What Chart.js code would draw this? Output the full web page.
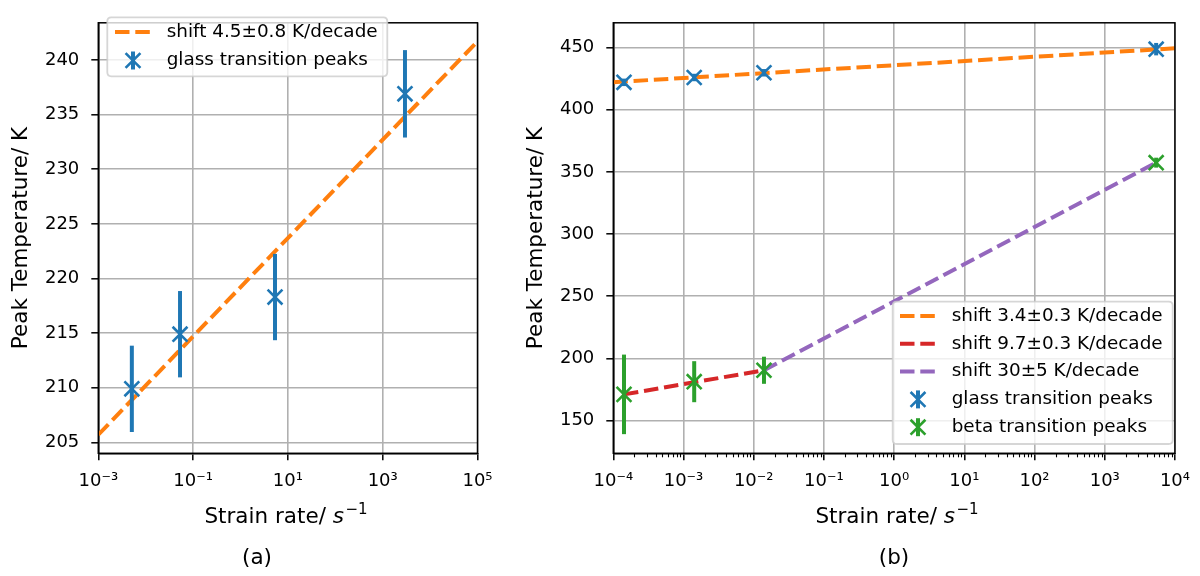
<!DOCTYPE html>
<html><head><meta charset="utf-8">
<script src="https://cdn.jsdelivr.net/npm/chart.js@4.4.1/dist/chart.umd.min.js"></script>
<style>
html,body{margin:0;padding:0;background:#fff;}
#wrap{position:relative;width:1200px;height:576px;}
canvas{position:absolute;left:0;top:0;}
</style></head><body>
<div id="wrap"><canvas id="ca" width="1200" height="576"></canvas><canvas id="cb" width="1200" height="576"></canvas></div>
<script>
// ---------- Panel (a) data ----------
const rateA = [0.0051, 0.053, 5.35, 2950];
const glassA = [209.9, 214.9, 218.3, 236.9];
const glassErrA = [3.95, 3.95, 3.95, 4.0];
const fitARate = [1e-3, 1e5];
const fitATemp = [205.7, 241.7];
const xTicksA = [1e-3, 1e-1, 1e1, 1e3, 1e5];
const yTicksA = [205, 210, 215, 220, 225, 230, 235, 240];
const labelFitA = 'shift 4.5±0.8 K/decade';

// ---------- Panel (b) data ----------
const rateB = [1.42e-4, 1.42e-3, 1.40e-2, 5400];
const glassB = [422.0, 425.9, 429.7, 448.7];
const glassErrB = [3, 3, 3, 5];
const betaB = [171.0, 181.2, 190.4, 357.4];
const betaErrB = [32, 16.5, 10.9, 4];
const fitGlassRate = [1e-4, 1e4];
const fitGlassTemp = [422.1, 449.4];
const fitBetaLowRate = [1.42e-4, 1.40e-2];
const fitBetaLowTemp = [171.0, 190.4];
const fitBetaHighRate = [1.40e-2, 5400];
const fitBetaHighTemp = [190.4, 357.4];
const xTicksB = [1e-4, 1e-3, 1e-2, 1e-1, 1e0, 1e1, 1e2, 1e3, 1e4];
const yTicksB = [150, 200, 250, 300, 350, 400, 450];
const labelFitGlassB = 'shift 3.4±0.3 K/decade';
const labelFitBetaLow = 'shift 9.7±0.3 K/decade';
const labelFitBetaHigh = 'shift 30±5 K/decade';
const labelGlass = 'glass transition peaks';
const labelBeta = 'beta transition peaks';

const yTitle = 'Peak Temperature/ K';

// ---------- helpers ----------
const FAM = '"DejaVu Sans", sans-serif';
const C = {blue:'#1f77b4', orange:'#ff7f0e', green:'#2ca02c', red:'#d62728', purple:'#9467bd'};
const SUP = {'-':'\u207B','0':'\u2070','1':'\u00B9','2':'\u00B2','3':'\u00B3','4':'\u2074','5':'\u2075','6':'\u2076','7':'\u2077','8':'\u2078','9':'\u2079'};
const pow10Label = v => '10' + String(Math.round(Math.log10(v))).split('').map(c => SUP[c]).join('');
const pts = (xs, ys) => xs.map((x, i) => ({x, y: ys[i]}));
const DASH = [14.5, 5.8];
const LW = 4;
const MR = 10.5;

function fitDs(label, xs, ys, color) {
  return {label, data: pts(xs, ys), showLine: true, borderColor: color, backgroundColor: color,
    borderWidth: LW, borderDash: DASH, pointRadius: 0, order: 2, _kind: 'line'};
}
function peakDs(label, xs, ys, color) {
  return {label, data: pts(xs, ys), showLine: false, pointStyle: 'crossRot', pointRadius: MR,
    pointBorderWidth: 2.6, pointBorderColor: color, borderColor: color, pointBackgroundColor: 'rgba(0,0,0,0)',
    order: 1, clip: false, _kind: 'marker'};
}

function roundRect(ctx, x, y, w, h, r) {
  ctx.beginPath();
  ctx.moveTo(x + r, y); ctx.lineTo(x + w - r, y); ctx.quadraticCurveTo(x + w, y, x + w, y + r);
  ctx.lineTo(x + w, y + h - r); ctx.quadraticCurveTo(x + w, y + h, x + w - r, y + h);
  ctx.lineTo(x + r, y + h); ctx.quadraticCurveTo(x, y + h, x, y + h - r);
  ctx.lineTo(x, y + r); ctx.quadraticCurveTo(x, y, x + r, y); ctx.closePath();
}

function makePanel(id, cfg) {
  const extras = {
    id: 'extras',
    afterDatasetsDraw(chart) {
      const {ctx, chartArea: a, scales: {x, y}} = chart;
      ctx.save();
      // error bars
      cfg.errorBars.forEach(eb => {
        ctx.strokeStyle = eb.color; ctx.lineWidth = LW; ctx.lineCap = 'butt'; ctx.setLineDash([]);
        eb.rates.forEach((r, i) => {
          const px = x.getPixelForValue(r);
          ctx.beginPath();
          ctx.moveTo(px, y.getPixelForValue(eb.temps[i] - eb.errs[i]));
          ctx.lineTo(px, y.getPixelForValue(eb.temps[i] + eb.errs[i]));
          ctx.stroke();
        });
      });
      // spines
      ctx.strokeStyle = '#000'; ctx.lineWidth = 1.5;
      ctx.strokeRect(a.left, a.top, a.right - a.left, a.bottom - a.top);
      // minor ticks
      if (cfg.minorTicks) {
        ctx.lineWidth = 1.1;
        const d0 = Math.round(Math.log10(x.min)), d1 = Math.round(Math.log10(x.max));
        for (let d = d0; d < d1; d++) {
          for (let m = 2; m <= 9; m++) {
            const px = Math.round(x.getPixelForValue(m * Math.pow(10, d))) + 0.5;
            ctx.beginPath(); ctx.moveTo(px, a.bottom); ctx.lineTo(px, a.bottom + 4); ctx.stroke();
          }
        }
      }
      ctx.restore();
    },
    afterDraw(chart) {
      const {ctx} = chart;
      ctx.save();
      // x axis title: Strain rate/ s^-1
      const parts = [
        {t: 'Strain rate/ ', f: '21.5px ' + FAM, dy: 0},
        {t: 's', f: 'italic 21.5px ' + FAM, dy: 0},
        {t: '\u22121', f: '15px ' + FAM, dy: -9.5, gap: 1.5}
      ];
      let total = 0;
      parts.forEach(p => { ctx.font = p.f; p.w = ctx.measureText(p.t).width; total += p.w + (p.gap || 0); });
      let cx = cfg.xTitleX - total / 2;
      ctx.fillStyle = '#000'; ctx.textBaseline = 'alphabetic'; ctx.textAlign = 'left';
      parts.forEach(p => { cx += (p.gap || 0); ctx.font = p.f; ctx.fillText(p.t, cx, 523.3 + p.dy); cx += p.w; });
      // caption
      ctx.font = '21.5px ' + FAM; ctx.textAlign = 'center';
      ctx.fillText(cfg.caption, cfg.captionX, 564);
      // legend
      const L = cfg.legend;
      roundRect(ctx, L.x, L.y, L.w, L.h, 4);
      ctx.fillStyle = 'rgba(255,255,255,0.8)'; ctx.fill();
      ctx.strokeStyle = 'rgba(204,204,204,0.8)'; ctx.lineWidth = 1.8; ctx.stroke();
      L.items.forEach((idx, k) => {
        const ds = chart.data.datasets[idx];
        const ry = L.row0 + k * L.step;
        if (ds._kind === 'line') {
          ctx.strokeStyle = ds.borderColor; ctx.lineWidth = LW; ctx.setLineDash(DASH); ctx.lineCap = 'butt';
          ctx.beginPath(); ctx.moveTo(L.h0, ry); ctx.lineTo(L.h1, ry); ctx.stroke();
          ctx.setLineDash([]);
        } else {
          const mx = (L.h0 + L.h1) / 2;
          ctx.strokeStyle = ds.borderColor; ctx.lineWidth = LW; ctx.setLineDash([]);
          ctx.beginPath(); ctx.moveTo(mx, ry - 9); ctx.lineTo(mx, ry + 9); ctx.stroke();
          ctx.lineWidth = 2.6; const o = MR * Math.SQRT1_2;
          ctx.beginPath(); ctx.moveTo(mx - o, ry - o); ctx.lineTo(mx + o, ry + o);
          ctx.moveTo(mx + o, ry - o); ctx.lineTo(mx - o, ry + o); ctx.stroke();
        }
        ctx.fillStyle = '#000'; ctx.font = '18.4px ' + FAM; ctx.textAlign = 'left'; ctx.textBaseline = 'middle';
        ctx.fillText(ds.label, L.tx, ry);
      });
      ctx.restore();
    }
  };

  return new Chart(document.getElementById(id), {
    type: 'scatter',
    data: {datasets: cfg.datasets},
    plugins: [extras],
    options: {
      responsive: false, animation: false, events: [],
      layout: {padding: cfg.padding},
      plugins: {legend: {display: false}, tooltip: {enabled: false}, title: {display: false}},
      scales: {
        x: {
          type: 'logarithmic', min: cfg.xMin, max: cfg.xMax, position: 'bottom',
          afterFit: s => { s.height = 50; },
          afterBuildTicks: s => { s.ticks = cfg.xTicks.map(v => ({value: v})); },
          ticks: {callback: v => pow10Label(v), autoSkip: false, maxRotation: 0, minRotation: 0,
            padding: 10, color: '#000', font: {family: FAM, size: 18}},
          grid: {color: '#b0b0b0', lineWidth: 1.6, tickColor: '#000', tickWidth: 1.5, tickLength: 7},
          border: {color: '#000', width: 1.5},
          title: {display: false}
        },
        y: {
          type: 'linear', min: cfg.yMin, max: cfg.yMax, position: 'left',
          afterFit: s => { s.width = cfg.yAxisWidth; },
          afterBuildTicks: s => { s.ticks = cfg.yTicks.map(v => ({value: v})); },
          ticks: {callback: v => String(v), autoSkip: false, padding: 12, color: '#000', font: {family: FAM, size: 18}},
          grid: {color: '#b0b0b0', lineWidth: 1.6, tickColor: '#000', tickWidth: 1.5, tickLength: 7},
          border: {color: '#000', width: 1.5},
          title: {display: true, text: yTitle, color: '#000', font: {family: FAM, size: 21.5},
            padding: {top: cfg.yTitlePad, bottom: 0}}
        }
      }
    }
  });
}

// ---------- Panel (a) ----------
makePanel('ca', {
  datasets: [
    fitDs(labelFitA, fitARate, fitATemp, C.orange),
    peakDs(labelGlass, rateA, glassA, C.blue)
  ],
  errorBars: [{rates: rateA, temps: glassA, errs: glassErrA, color: C.blue}],
  xMin: 1e-3, xMax: 1e5, yMin: 204.0, yMax: 243.4,
  xTicks: xTicksA, yTicks: yTicksA,
  padding: {left: 0, top: 6.7, right: 1200 - 477.5, bottom: 576 - 453.3 - 50},
  yAxisWidth: 98.3, yTitlePad: 8.8,
  minorTicks: false,
  xTitleX: 286, caption: '(a)', captionX: 257,
  legend: {x: 107.3, y: 17.3, w: 280, h: 59, row0: 32, step: 28.5, h0: 115, h1: 151, tx: 166.7, items: [0, 1]}
});

// ---------- Panel (b) ----------
makePanel('cb', {
  datasets: [
    fitDs(labelFitGlassB, fitGlassRate, fitGlassTemp, C.orange),
    fitDs(labelFitBetaLow, fitBetaLowRate, fitBetaLowTemp, C.red),
    fitDs(labelFitBetaHigh, fitBetaHighRate, fitBetaHighTemp, C.purple),
    peakDs(labelGlass, rateB, glassB, C.blue),
    peakDs(labelBeta, rateB, betaB, C.green)
  ],
  errorBars: [
    {rates: rateB, temps: glassB, errs: glassErrB, color: C.blue},
    {rates: rateB, temps: betaB, errs: betaErrB, color: C.green}
  ],
  xMin: 1e-4, xMax: 1e4, yMin: 123.6, yMax: 469.9,
  xTicks: xTicksB, yTicks: yTicksB,
  padding: {left: 500, top: 6.7, right: 1200 - 1181.7, bottom: 576 - 453.3 - 50},
  yAxisWidth: 113.3, yTitlePad: 23.8,
  minorTicks: true,
  xTitleX: 897, caption: '(b)', captionX: 894,
  legend: {x: 892.7, y: 301.7, w: 280, h: 142.3, row0: 316, step: 27.8, h0: 900, h1: 936, tx: 951.7, items: [0, 1, 2, 3, 4]}
});
</script>
</body></html>
